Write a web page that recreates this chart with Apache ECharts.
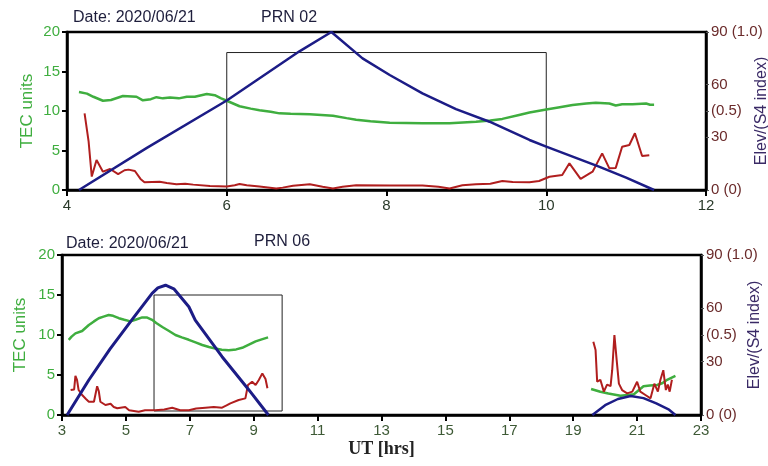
<!DOCTYPE html>
<html>
<head>
<meta charset="utf-8">
<script src="https://cdn.jsdelivr.net/npm/echarts@6/dist/echarts.min.js"></script>
<style>html,body{margin:0;padding:0;background:#fff}#c{width:768px;height:466px}</style>
</head>
<body>
<div id="c"></div>
<script>
// ---- Data ----
const dateText = 'Date: 2020/06/21';
const prnTop = 'PRN 02';
const prnBottom = 'PRN 06';

const xTicksTop = [4, 12, 2];      // min, max, interval
const xTicksBottom = [3, 23, 2];
const elevLabels = {0: '0 (0)', 30: '30', 45: '(0.5)', 60: '60', 90: '90 (1.0)'};

// PRN 02: TEC (TEC units), Elevation (deg), S4 index
const prn02Tec = [[4.15,12.4],[4.25,12.2],[4.33,11.8],[4.45,11.3],[4.55,11.4],[4.7,11.9],[4.87,11.8],[4.95,11.35],[5.05,11.5],[5.12,11.75],[5.2,11.6],[5.29,11.7],[5.4,11.6],[5.5,11.8],[5.6,11.8],[5.75,12.15],[5.85,12.0],[5.93,11.6],[6.0,11.3],[6.16,10.6],[6.3,10.3],[6.41,10.1],[6.55,9.9],[6.66,9.7],[6.8,9.65],[7.04,9.6],[7.33,9.4],[7.5,9.1],[7.62,8.9],[7.8,8.7],[8.04,8.5],[8.45,8.44],[8.79,8.45],[9.12,8.65],[9.3,8.8],[9.45,9.0],[9.66,9.5],[9.79,9.8],[10.0,10.2],[10.15,10.45],[10.33,10.75],[10.5,10.95],[10.62,11.05],[10.79,10.95],[10.87,10.7],[10.95,10.85],[11.08,10.85],[11.25,10.95],[11.3,10.8],[11.35,10.8]];
const prn02S4 = [[4.22,0.485],[4.27,0.31],[4.31,0.085],[4.37,0.19],[4.45,0.116],[4.54,0.133],[4.64,0.10],[4.72,0.125],[4.77,0.129],[4.85,0.12],[4.92,0.07],[4.97,0.049],[5.16,0.052],[5.25,0.045],[5.37,0.036],[5.48,0.04],[5.58,0.034],[5.79,0.025],[6.0,0.022],[6.1,0.03],[6.16,0.038],[6.25,0.03],[6.41,0.022],[6.62,0.01],[6.7,0.015],[6.83,0.027],[7.04,0.036],[7.2,0.02],[7.33,0.01],[7.45,0.02],[7.62,0.03],[8.04,0.028],[8.45,0.028],[8.65,0.02],[8.79,0.01],[8.95,0.03],[9.12,0.036],[9.3,0.04],[9.45,0.057],[9.58,0.05],[9.79,0.049],[9.91,0.057],[10.04,0.084],[10.2,0.095],[10.29,0.169],[10.43,0.07],[10.58,0.116],[10.7,0.232],[10.79,0.137],[10.87,0.14],[10.95,0.274],[11.04,0.285],[11.11,0.359],[11.2,0.215],[11.29,0.22]];
const prn02Elev = [[4.15,0],[5.0,24],[6.0,51],[6.91,79],[7.31,90],[7.7,75],[8.04,65.5],[8.45,55],[8.87,46.1],[9.29,38.9],[9.79,28.5],[10.0,24.7],[10.66,13.3],[11.0,7],[11.35,0]];
const prn02Box = [[6,0],[6,17.4],[10,17.4],[10,0]];

// PRN 06: first pass
const prn06Tec = [[3.21,9.4],[3.3,9.8],[3.42,10.2],[3.63,10.5],[3.84,11.25],[4.0,11.7],[4.15,12.1],[4.3,12.3],[4.46,12.5],[4.6,12.4],[4.78,12.1],[4.95,11.9],[5.14,11.7],[5.3,11.9],[5.51,12.2],[5.65,12.2],[5.82,11.9],[5.95,11.5],[6.14,11.0],[6.35,10.5],[6.55,10.0],[6.75,9.7],[6.97,9.4],[7.2,9.05],[7.39,8.75],[7.6,8.5],[7.8,8.3],[8.0,8.15],[8.22,8.1],[8.45,8.2],[8.64,8.4],[8.85,8.8],[9.06,9.2],[9.25,9.45],[9.45,9.7]];
const prn06S4 = [[3.27,0.156],[3.38,0.16],[3.42,0.244],[3.47,0.22],[3.52,0.156],[3.63,0.125],[3.75,0.1],[3.84,0.083],[4.0,0.083],[4.1,0.18],[4.15,0.15],[4.2,0.083],[4.36,0.0625],[4.52,0.07],[4.62,0.05],[4.73,0.042],[4.98,0.05],[5.1,0.03],[5.4,0.02],[5.6,0.03],[5.92,0.03],[6.2,0.035],[6.45,0.045],[6.7,0.03],[6.97,0.03],[7.2,0.04],[7.49,0.046],[7.75,0.05],[8.01,0.046],[8.15,0.06],[8.27,0.073],[8.53,0.094],[8.74,0.104],[8.82,0.1875],[8.95,0.208],[9.06,0.1875],[9.16,0.219],[9.27,0.26],[9.37,0.225],[9.43,0.167]];
const prn06Elev = [[3.16,0],[3.84,19.7],[4.5,37],[5.18,53.4],[5.82,68.4],[6.0,71.5],[6.24,73],[6.5,71],[6.97,60.9],[7.17,53.4],[8.01,32.8],[8.85,14.1],[9.46,0]];
// PRN 06: second pass
const prn06Tec2 = [[19.56,3.25],[19.85,2.9],[20.1,2.7],[20.48,2.4],[20.7,2.5],[20.9,2.6],[21.05,3.1],[21.2,3.6],[21.4,3.7],[21.63,3.75],[21.8,4.0],[21.94,4.4],[22.2,4.9]];
const prn06S42 = [[19.63,0.458],[19.7,0.406],[19.75,0.208],[19.85,0.22],[19.96,0.146],[20.06,0.19],[20.17,0.18],[20.22,0.28],[20.29,0.5],[20.36,0.344],[20.43,0.196],[20.53,0.156],[20.69,0.135],[20.85,0.146],[21.0,0.208],[21.1,0.146],[21.26,0.125],[21.42,0.104],[21.54,0.196],[21.65,0.146],[21.73,0.22],[21.82,0.28],[21.9,0.156],[21.96,0.19],[22.02,0.146],[22.09,0.22]];
const prn06Elev2 = [[19.6,0],[20.0,5.5],[20.4,9],[20.8,10.7],[21.2,9.5],[21.6,6.5],[22.0,3],[22.2,0]];
const prn06Box = [[5.88,0.5],[5.88,15],[9.89,15],[9.89,0.5],[5.88,0.5]];

// ---- Styles ----
const GREEN = '#3fae3f', RED = '#b01e1e', BLUE = '#1c1c86';
const FONT = '"Liberation Sans", Arial, sans-serif';

function xAxis(grid, t, labelColor, name) {
  return {
    type: 'value', gridIndex: grid, min: t[0], max: t[1], interval: t[2],
    splitLine: {show: false},
    axisLine: {show: true, onZero: false, lineStyle: {color: '#000', width: 2.5}},
    axisTick: {show: true, length: 6, lineStyle: {color: '#000', width: 2}},
    axisLabel: {color: labelColor, fontSize: 15, fontFamily: FONT, margin: 8},
    name: name || '', nameLocation: 'middle', nameGap: 25, nameMoveOverlap: false,
    nameTextStyle: {fontFamily: '"Liberation Serif", "Times New Roman", serif', fontWeight: 'bold', fontSize: 18, color: '#222'}
  };
}
function tecAxis(grid, gap) {
  return {
    type: 'value', gridIndex: grid, min: 0, max: 20, interval: 5, position: 'left',
    splitLine: {show: false},
    axisLine: {show: true, lineStyle: {color: '#000', width: 2.5}},
    axisTick: {show: true, length: 5, lineStyle: {color: '#000', width: 2}},
    axisLabel: {color: GREEN, fontSize: 15, fontFamily: FONT, margin: 7},
    name: 'TEC units', nameLocation: 'middle', nameGap: gap, nameMoveOverlap: false,
    nameTextStyle: {color: GREEN, fontSize: 17, fontFamily: FONT}
  };
}
function elevAxis(grid, gap) {
  return {
    type: 'value', gridIndex: grid, min: 0, max: 90, interval: 15, position: 'right',
    splitLine: {show: false},
    axisLine: {show: true, lineStyle: {color: '#000', width: 2.5}},
    axisTick: {show: true, length: 3, customValues: [0, 30, 45, 60, 90], lineStyle: {color: '#555', width: 1}},
    axisLabel: {color: '#6a2a2a', fontSize: 15, fontFamily: FONT, margin: 5,
      customValues: [0, 30, 45, 60, 90],
      formatter: v => elevLabels[v] || ''},
    name: 'Elev/(S4 index)', nameLocation: 'middle', nameGap: gap, nameMoveOverlap: false,
    nameTextStyle: {color: '#3a2a66', fontSize: 16, fontFamily: FONT}
  };
}
function s4Axis(grid) {
  return {type: 'value', gridIndex: grid, min: 0, max: 1, show: false, position: 'right'};
}
function line(xi, yi, data, color, width, z) {
  return {type: 'line', xAxisIndex: xi, yAxisIndex: yi, data: data, showSymbol: false, symbol: 'none',
    lineStyle: {color: color, width: width}, itemStyle: {color: color}, z: z, silent: true, animation: false};
}

const chart = echarts.init(document.getElementById('c'), null, {renderer: 'canvas'});
chart.setOption({
  backgroundColor: '#fff',
  animation: false,
  title: [
    {text: dateText, left: 68, top: 5, textStyle: {fontSize: 16, fontWeight: 'normal', color: '#1e1e3c', fontFamily: FONT}},
    {text: prnTop, left: 256, top: 5, textStyle: {fontSize: 16, fontWeight: 'normal', color: '#1e1e3c', fontFamily: FONT}},
    {text: dateText, left: 61, top: 231, textStyle: {fontSize: 16, fontWeight: 'normal', color: '#1e1e3c', fontFamily: FONT}},
    {text: prnBottom, left: 249, top: 229, textStyle: {fontSize: 16, fontWeight: 'normal', color: '#1e1e3c', fontFamily: FONT}}
  ],
  grid: [
    {left: 67, top: 32, width: 639, height: 158, show: true, borderColor: '#000', borderWidth: 2.5, backgroundColor: 'transparent', outerBoundsMode: 'none', containLabel: false},
    {left: 62, top: 255, width: 639, height: 160, show: true, borderColor: '#000', borderWidth: 2.5, backgroundColor: 'transparent', outerBoundsMode: 'none', containLabel: false}
  ],
  xAxis: [xAxis(0, xTicksTop, '#2a3a2a'), xAxis(1, xTicksBottom, '#3e5a36', 'UT [hrs]')],
  yAxis: [tecAxis(0, 31), elevAxis(0, 48), s4Axis(0), tecAxis(1, 33), elevAxis(1, 46), s4Axis(1)],
  series: [
    line(0, 0, prn02Box, '#222', 1, 1),
    line(0, 0, prn02Tec, GREEN, 2.5, 2),
    line(0, 2, prn02S4, RED, 2, 3),
    line(0, 1, prn02Elev, BLUE, 2.5, 4),
    line(1, 3, prn06Box, '#222', 1, 1),
    line(1, 3, prn06Tec, GREEN, 2.5, 2),
    line(1, 5, prn06S4, RED, 2, 3),
    line(1, 4, prn06Elev, BLUE, 3, 4),
    line(1, 3, prn06Tec2, GREEN, 2.5, 2),
    line(1, 5, prn06S42, RED, 2, 3),
    line(1, 4, prn06Elev2, BLUE, 2.5, 4)
  ]
});
</script>
</body>
</html>
